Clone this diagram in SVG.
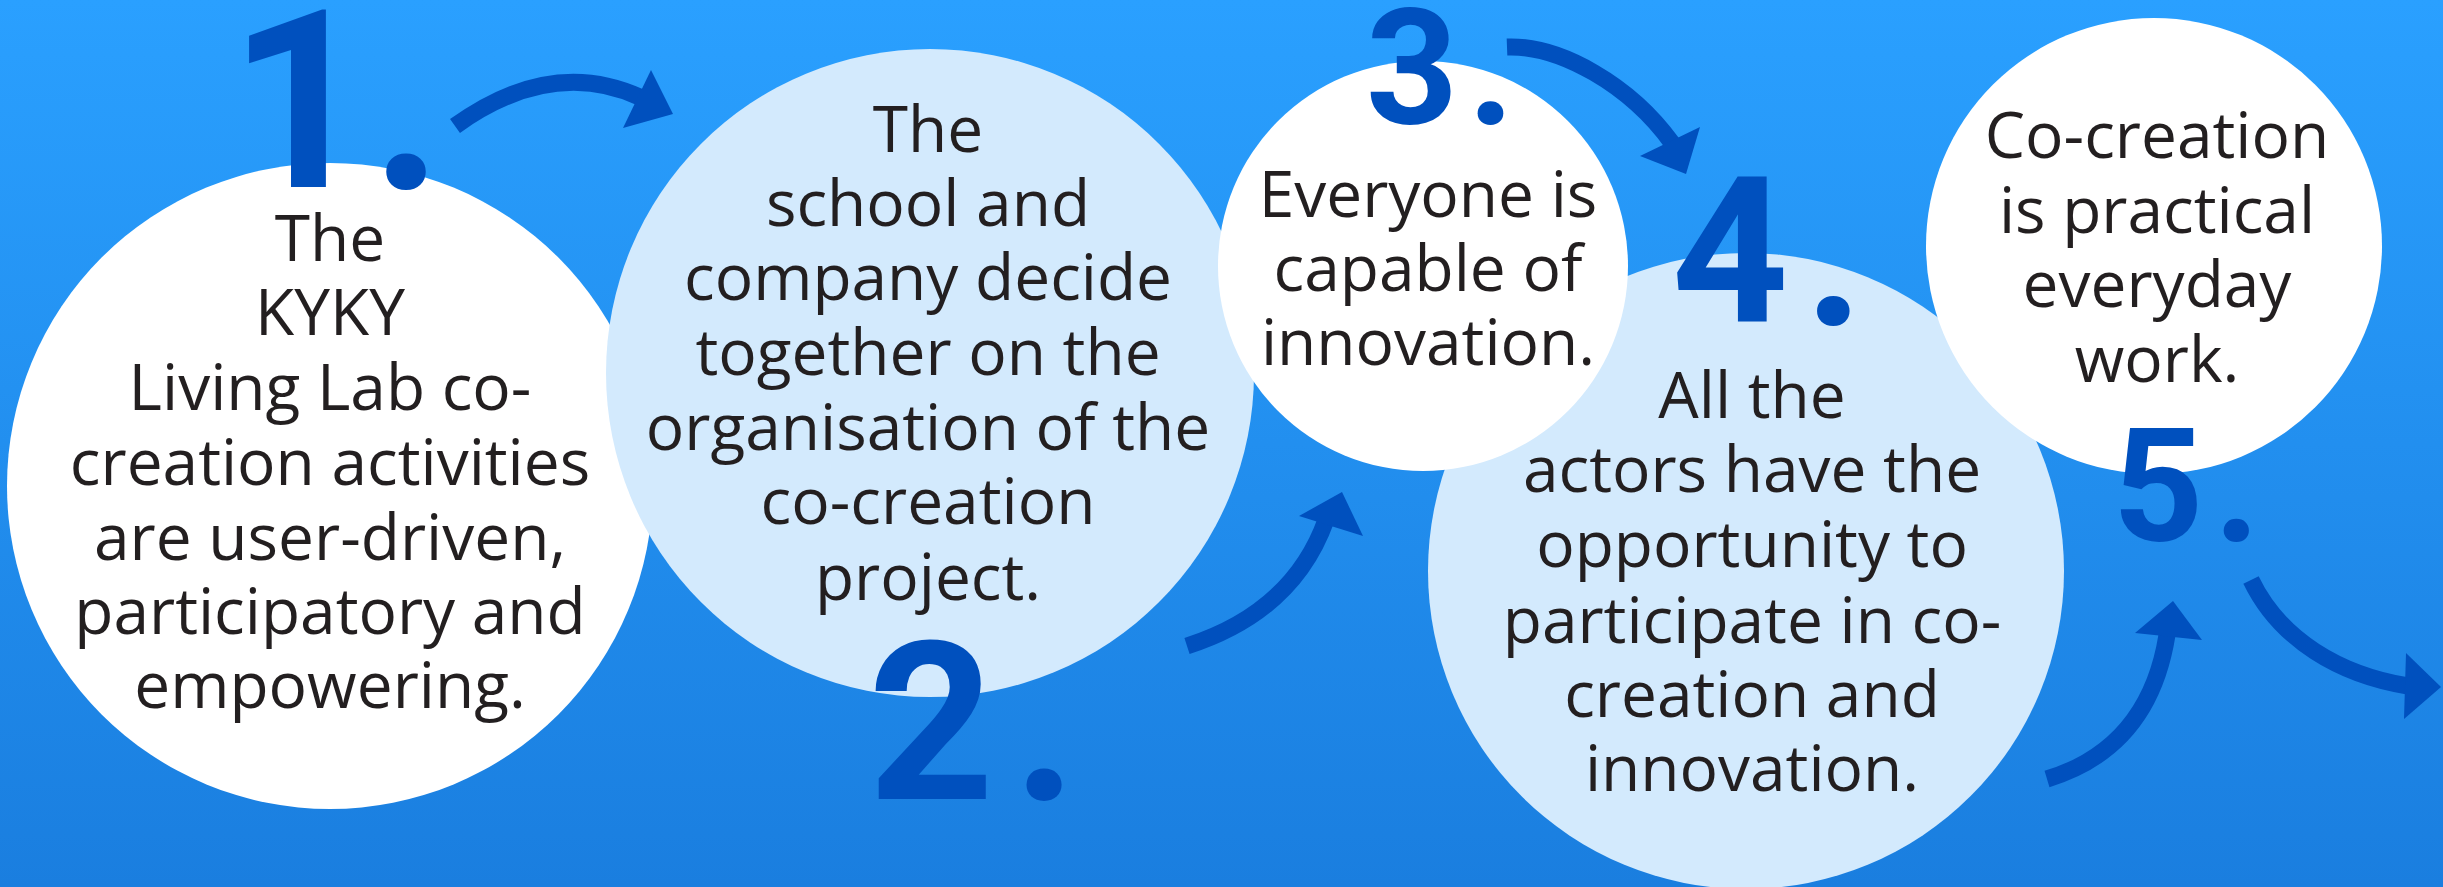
<svg xmlns="http://www.w3.org/2000/svg" width="2443" height="887" viewBox="0 0 2443 887">
<defs>
<linearGradient id="bg" x1="0" y1="0" x2="0" y2="1">
<stop offset="0" stop-color="#2AA0FF"/>
<stop offset="1" stop-color="#1A7EDF"/>
</linearGradient>
</defs>
<style>
.white{fill:#FFFFFF}
.light{fill:#D3EAFD}
.txt{font-family:"Open Sans","Liberation Sans",sans-serif;font-size:64px;fill:#231F20;text-anchor:middle}
.num{font-family:Roboto,"Open Sans","Liberation Sans",sans-serif;font-weight:700;fill:#0050BE;text-anchor:middle}
.shaft{fill:none;stroke:#0050BE;stroke-width:17}
.head{fill:#0050BE}
</style>
<rect x="0" y="0" width="2443" height="887" fill="url(#bg)"/>
<g id="node1">
<circle class="white" cx="330" cy="486" r="323"/>
<text class="txt"><tspan x="330" y="261">The</tspan><tspan x="330" y="335">KYKY</tspan><tspan x="330" y="410">Living Lab co-</tspan><tspan x="330" y="485">creation activities</tspan><tspan x="330" y="560">are user-driven,</tspan><tspan x="330" y="634">participatory and</tspan><tspan x="330" y="708">empowering.</tspan></text>
</g>
<g id="node2">
<circle class="light" cx="930" cy="373" r="324"/>
<text class="txt"><tspan x="928" y="152">The</tspan><tspan x="928" y="226">school and</tspan><tspan x="928" y="300">company decide</tspan><tspan x="928" y="375">together on the</tspan><tspan x="928" y="450">organisation of the</tspan><tspan x="928" y="524">co-creation</tspan><tspan x="928" y="600">project.</tspan></text>
</g>
<g id="node4">
<circle class="light" cx="1746" cy="571" r="318"/>
<text class="txt"><tspan x="1752" y="418">All the</tspan><tspan x="1752" y="492">actors have the</tspan><tspan x="1752" y="567">opportunity to</tspan><tspan x="1752" y="643">participate in co-</tspan><tspan x="1752" y="717">creation and</tspan><tspan x="1752" y="791">innovation.</tspan></text>
</g>
<g id="node3">
<circle class="white" cx="1423" cy="266" r="205"/>
<text class="txt"><tspan x="1428" y="217">Everyone is</tspan><tspan x="1428" y="291">capable of</tspan><tspan x="1428" y="365">innovation.</tspan></text>
</g>
<g id="node5">
<circle class="white" cx="2154" cy="246" r="228"/>
<text class="txt"><tspan x="2157" y="158">Co-creation</tspan><tspan x="2157" y="233">is practical</tspan><tspan x="2157" y="307">everyday</tspan><tspan x="2157" y="382">work.</tspan></text>
</g>
<g id="connectors">
<path class="shaft" d="M455 126 Q552 56 642 98"/>
<polygon class="head" points="651,70 673,114 623,128"/>
<path class="shaft" d="M1187 646 Q1293 612 1326 520"/>
<polygon class="head" points="1299,516 1342,492 1363,536"/>
<path class="shaft" d="M1507 47 C1560 45 1630 85 1672 143"/>
<polygon class="head" points="1640,156 1700,127 1686,174"/>
<path class="shaft" d="M2047 779 Q2149 748 2167 635"/>
<polygon class="head" points="2135,633 2173,601 2202,640"/>
<path class="shaft" d="M2251 580 C2280 640 2340 675 2408 686"/>
<polygon class="head" points="2406,653 2441,687 2404,719"/>
</g>
<g id="numbers">
<text class="num" font-size="248"><tspan x="300" y="187">1</tspan><tspan x="407" y="189">.</tspan></text>
<text class="num" font-size="220"><tspan x="931" y="799">2</tspan><tspan x="1045" y="800">.</tspan></text>
<text class="num" font-size="161"><tspan x="1412" y="123">3</tspan><tspan x="1491" y="124">.</tspan></text>
<text class="num" font-size="204"><tspan x="1730" y="322">4</tspan><tspan x="1834" y="325">.</tspan></text>
<text class="num" font-size="158"><tspan x="2158" y="540">5</tspan><tspan x="2237" y="541">.</tspan></text>
</g>
</svg>
